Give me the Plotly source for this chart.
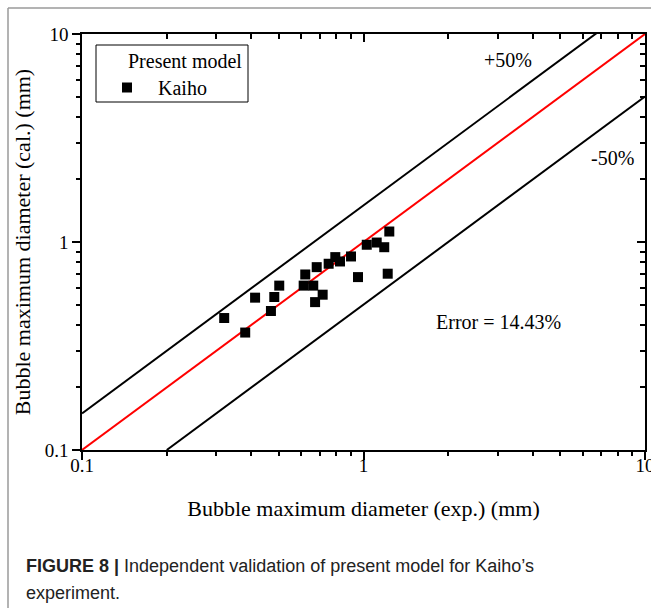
import plotly.graph_objects as go

# ---- data ----
exp_diam = [0.320, 0.380, 0.412, 0.469, 0.482, 0.502, 0.621, 0.613, 0.663, 0.682, 0.716,
            0.673, 0.752, 0.794, 0.825, 0.903, 0.956, 1.027, 1.114, 1.185, 1.235, 1.219]
cal_diam = [0.431, 0.367, 0.540, 0.466, 0.544, 0.617, 0.698, 0.617, 0.617, 0.757, 0.558,
            0.514, 0.786, 0.846, 0.806, 0.852, 0.678, 0.970, 0.994, 0.944, 1.123, 0.704]
line_x = [0.1, 10.0]
ratio_ref = 1.0
ratio_upper = 1.5
ratio_lower = 0.5
major_ticks = [0.1, 1, 10]
major_labels = ["0.1", "1", "10"]
minor_ticks = [0.2, 0.3, 0.4, 0.5, 0.6, 0.7, 0.8, 0.9, 2, 3, 4, 5, 6, 7, 8, 9]

W, H = 651, 608
ML, MR, MT, MB = 82, 6, 34, 158
PW, PH = W - ML - MR, H - MT - MB


def px(x):
    return (x - ML) / PW


def py(y):
    return (H - MB - y) / PH


serif = "Liberation Serif, Times New Roman, serif"
sans = "Liberation Sans, Arial, sans-serif"

fig = go.Figure()

# lines
fig.add_trace(go.Scatter(x=line_x, y=[v * ratio_upper for v in line_x], mode="lines",
                         line=dict(color="black", width=2), showlegend=False, hoverinfo="skip"))
fig.add_trace(go.Scatter(x=[line_x[0] / ratio_lower, line_x[1]],
                         y=[line_x[0], line_x[1] * ratio_lower], mode="lines",
                         line=dict(color="black", width=2), showlegend=False, hoverinfo="skip"))
fig.add_trace(go.Scatter(x=line_x, y=[v * ratio_ref for v in line_x], mode="lines",
                         line=dict(color="#ff0000", width=2), showlegend=False, hoverinfo="skip"))

# data
fig.add_trace(go.Scatter(x=exp_diam, y=cal_diam, mode="markers", name="Kaiho",
                         marker=dict(symbol="square", size=10, color="black",
                                     line=dict(width=0))))


def axis(ticks, vals, labels, length, line=True):
    d = dict(type="log", range=[-1, 1], showgrid=False, zeroline=False,
             showline=line, linecolor="black", linewidth=1.6, automargin=False,
             tickmode="array", tickvals=vals,
             ticks=ticks, tickcolor="black", tickwidth=1.5, ticklen=length,
             showticklabels=labels is not None, ticklabeloverflow="allow",
             tickfont=dict(family=serif, size=19, color="black"))
    if labels is not None:
        d["ticktext"] = labels
    return d


fig.update_layout(
    width=W, height=H,
    margin=dict(l=ML, r=MR, t=MT, b=MB, pad=0, autoexpand=False),
    paper_bgcolor="white", plot_bgcolor="white",
    xaxis=dict(**axis("outside", major_ticks, major_labels, 8), ticklabelstandoff=-11,
               title=dict(text="Bubble maximum diameter (exp.) (mm)",
                          font=dict(family=serif, size=22, color="black"), standoff=26)),
    yaxis=dict(**axis("outside", major_ticks, major_labels, 8),
               title=dict(text="Bubble maximum diameter (cal.) (mm)",
                          font=dict(family=serif, size=22, color="black"), standoff=8)),
    xaxis2=dict(**axis("outside", minor_ticks, None, 5, False), overlaying="x", side="bottom", matches="x"),
    yaxis2=dict(**axis("outside", minor_ticks, None, 5, False), overlaying="y", side="left", matches="y"),
    xaxis3=dict(**axis("inside", major_ticks, None, 8), overlaying="x", side="top", matches="x"),
    yaxis3=dict(**axis("inside", major_ticks, None, 8), overlaying="y", side="right", matches="y"),
    xaxis4=dict(**axis("inside", minor_ticks, None, 5, False), overlaying="x", side="top", matches="x"),
    yaxis4=dict(**axis("inside", minor_ticks, None, 5, False), overlaying="y", side="right", matches="y"),
    legend=dict(x=px(96), y=py(42), xanchor="left", yanchor="top",
                borderwidth=0, bgcolor="rgba(0,0,0,0)",
                title=dict(text="\u00a0\u00a0\u00a0\u00a0\u00a0\u00a0Present model",
                           font=dict(family=serif, size=20, color="black")),
                font=dict(family=serif, size=20, color="black"),
                itemwidth=52, tracegroupgap=0),
    showlegend=True,
)

# invisible traces to activate the overlay tick axes
for k in ["2", "3", "4"]:
    fig.add_trace(go.Scatter(x=[1], y=[1], xaxis="x" + k, yaxis="y" + k, mode="markers",
                             marker=dict(opacity=0), showlegend=False, hoverinfo="skip"))

# legend frame
fig.add_shape(type="rect", xref="paper", yref="paper", x0=px(96), y0=py(45), x1=px(248), y1=py(102),
              line=dict(color="black", width=1), fillcolor="rgba(0,0,0,0)")

annos = [
    dict(text="+50%", x=px(508), y=py(60)),
    dict(text="-50%", x=px(612), y=py(158)),
    dict(text="Error = 14.43%", x=px(498), y=py(322)),
]
for a in annos:
    fig.add_annotation(xref="paper", yref="paper", x=a["x"], y=a["y"], text=a["text"],
                       showarrow=False, xanchor="center", yanchor="middle",
                       font=dict(family=serif, size=20, color="black"))

# caption
fig.add_annotation(xref="paper", yref="paper", x=px(24), y=py(566), xanchor="left", yanchor="middle",
                   text="<b>FIGURE 8 |</b> Independent validation of present model for Kaiho’s",
                   showarrow=False, font=dict(family=sans, size=18, color="#222222"))
fig.add_annotation(xref="paper", yref="paper", x=px(24), y=py(593), xanchor="left", yanchor="middle",
                   text="experiment.", showarrow=False,
                   font=dict(family=sans, size=18, color="#222222"))

# outer frame (gray)
fig.add_shape(type="line", xref="paper", yref="paper", x0=px(8), y0=py(8), x1=px(W + 5), y1=py(8),
              line=dict(color="#9a9a9a", width=1.5))
fig.add_shape(type="line", xref="paper", yref="paper", x0=px(8), y0=py(8), x1=px(8), y1=py(H + 5),
              line=dict(color="#9a9a9a", width=1.5))

fig.write_html("out.html")
